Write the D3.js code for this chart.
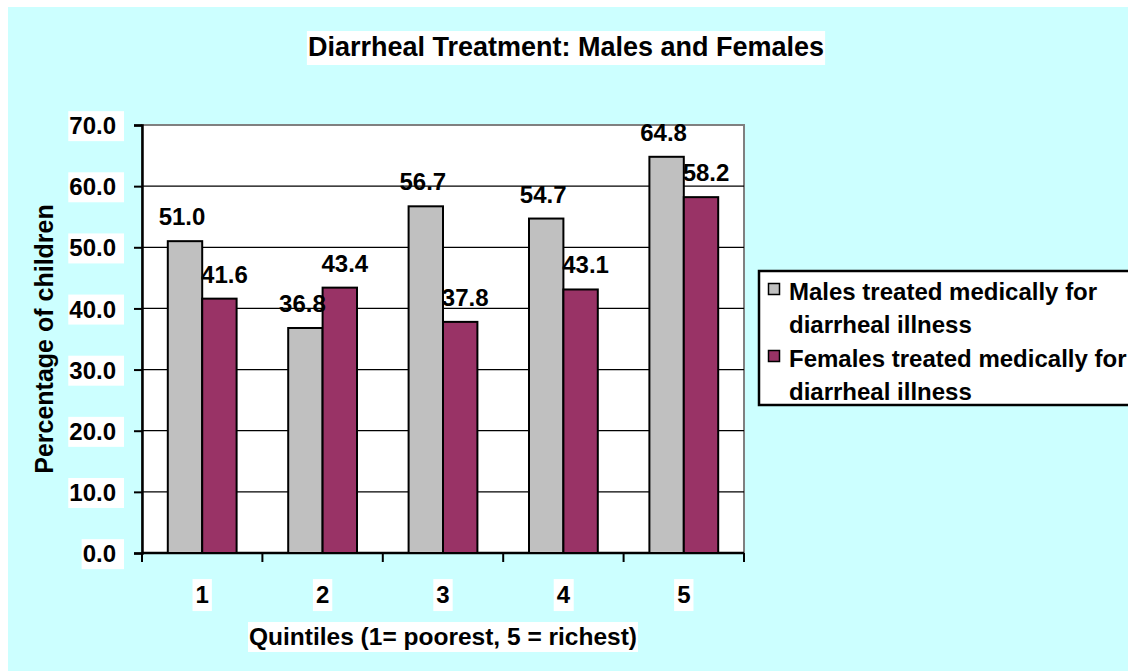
<!DOCTYPE html>
<meta charset="utf-8">
<style>
body { margin: 0; background: #ffffff; }
text { font-family: "Liberation Sans", Arial, sans-serif; font-weight: bold; fill: #000; }
</style>
<body>
<script src="https://cdn.jsdelivr.net/npm/d3@7"></script>
<script>
// data
var quintiles = ["1", "2", "3", "4", "5"];
var seriesNames = ["Males treated medically for diarrheal illness", "Females treated medically for diarrheal illness"];
var legendLines = [["Males treated medically for", "diarrheal illness"], ["Females treated medically for", "diarrheal illness"]];
var males = [51.0, 36.8, 56.7, 54.7, 64.8];
var females = [41.6, 43.4, 37.8, 43.1, 58.2];
var yTicks = [0, 10, 20, 30, 40, 50, 60, 70];
var colors = ["#C0C0C0", "#993366"];

var width = 1128, height = 671;
var plot = {left: 142, right: 744, top: 125, bottom: 553};

var svg = d3.select("body").append("svg")
  .attr("width", width)
  .attr("height", height);

// background
svg.append("rect").attr("x", 8).attr("y", 7)
  .attr("width", width - 8).attr("height", height - 7)
  .attr("fill", "#CCFFFF");

svg.append("rect")
  .attr("x", plot.left).attr("y", plot.top)
  .attr("width", plot.right - plot.left).attr("height", plot.bottom - plot.top)
  .attr("fill", "#ffffff").attr("stroke", "#808080").attr("stroke-width", 2);

// scales
var x0 = d3.scaleBand().domain(quintiles).range([plot.left, plot.right]).padding(0);
var x1 = d3.scaleBand().domain([0, 1]).range([0, x0.bandwidth()]).paddingInner(0).paddingOuter(0.75);
var y = d3.scaleLinear().domain([0, 70]).range([plot.bottom, plot.top]);

// white box behind a text node
function boxIt(sel, pl, pr, pt, pb) {
  sel.each(function() {
    var b = this.getBBox();
    d3.select(this.parentNode).insert("rect", function() { return this; }.bind(this))
      .attr("x", b.x - pl).attr("y", b.y - pt)
      .attr("width", b.width + pl + pr).attr("height", b.height + pt + pb)
      .attr("fill", "#ffffff");
  });
}

// gridlines
svg.append("g").selectAll("line")
  .data(yTicks.filter(function(d) { return d > 0 && d < 70; }))
  .join("line")
  .attr("x1", plot.left).attr("x2", plot.right)
  .attr("y1", function(d) { return y(d); }).attr("y2", function(d) { return y(d); })
  .attr("stroke", "#000").attr("stroke-width", 1.2);

// y axis
var yAxis = svg.append("g")
  .attr("transform", "translate(" + plot.left + ",0)")
  .call(d3.axisLeft(y).tickValues(yTicks).tickFormat(d3.format(".1f")).tickSize(8).tickPadding(18));
yAxis.select(".domain").attr("stroke", "#000").attr("stroke-width", 2.5);
yAxis.selectAll(".tick line").attr("stroke", "#000").attr("stroke-width", 2);
yAxis.selectAll(".tick text")
  .attr("font-size", 24).attr("font-family", "Liberation Sans, Arial, sans-serif")
  .attr("font-weight", "bold").attr("fill", "#000").attr("dy", "0.36em");
boxIt(yAxis.selectAll(".tick text"), 1, 8, 1, 2);

// x axis
var xAxis = svg.append("g")
  .attr("transform", "translate(0," + plot.bottom + ")")
  .call(d3.axisBottom(x0).tickSize(0).tickPadding(33));
xAxis.select(".domain").remove();
xAxis.append("line").attr("x1", plot.left).attr("x2", plot.right)
  .attr("stroke", "#000").attr("stroke-width", 2.5);
xAxis.selectAll(".boundary")
  .data(quintiles.concat(["end"]))
  .join("line")
  .attr("x1", function(d, i) { return i < quintiles.length ? x0(d) : plot.right; })
  .attr("x2", function(d, i) { return i < quintiles.length ? x0(d) : plot.right; })
  .attr("y1", 0).attr("y2", 9)
  .attr("stroke", "#000").attr("stroke-width", 2);
xAxis.selectAll(".tick text")
  .attr("font-size", 24).attr("font-family", "Liberation Sans, Arial, sans-serif")
  .attr("font-weight", "bold").attr("fill", "#000").attr("dy", "0.71em");
boxIt(xAxis.selectAll(".tick text"), 3, 3, 2, 3);

// bars
var groups = svg.append("g").selectAll("g")
  .data(quintiles)
  .join("g")
  .attr("transform", function(d) { return "translate(" + x0(d) + ",0)"; });

groups.selectAll("rect")
  .data(function(d, i) { return [males[i], females[i]]; })
  .join("rect")
  .attr("x", function(d, j) { return x1(j); })
  .attr("y", function(d) { return y(d); })
  .attr("width", x1.bandwidth())
  .attr("height", function(d) { return y(0) - y(d); })
  .attr("fill", function(d, j) { return colors[j]; })
  .attr("stroke", "#000").attr("stroke-width", 2);

groups.selectAll("text")
  .data(function(d, i) { return [males[i], females[i]]; })
  .join("text")
  .attr("x", function(d, j) { return x1(j) + x1.bandwidth() / 2 + (j === 0 ? -3 : 5); })
  .attr("y", function(d) { return y(d) - 16; })
  .attr("text-anchor", "middle")
  .attr("font-size", 24)
  .text(function(d) { return d3.format(".1f")(d); });

// title
var title = svg.append("text")
  .attr("x", 566).attr("y", 56)
  .attr("text-anchor", "middle")
  .attr("font-size", 27)
  .text("Diarrheal Treatment: Males and Females");
boxIt(title, 1, 1, 1, 3);

// axis titles
var xTitle = svg.append("text")
  .attr("x", (plot.left + plot.right) / 2).attr("y", 645)
  .attr("text-anchor", "middle")
  .attr("font-size", 24.5)
  .text("Quintiles (1= poorest, 5 = richest)");
boxIt(xTitle, 1, 1, 1, 2);

var yTitle = svg.append("text")
  .attr("transform", "translate(53," + ((plot.top + plot.bottom) / 2) + ") rotate(-90)")
  .attr("text-anchor", "middle")
  .attr("font-size", 25)
  .text("Percentage of children");
boxIt(yTitle, 2, 2, 2, 2);

// legend
var legend = svg.append("g").attr("transform", "translate(759,271)");
legend.append("rect")
  .attr("x", 0).attr("y", 0).attr("width", 380).attr("height", 134)
  .attr("fill", "#ffffff").attr("stroke", "#000").attr("stroke-width", 2.5);

var items = legend.selectAll(".item")
  .data(seriesNames)
  .join("g")
  .attr("class", "item")
  .attr("transform", function(d, i) { return "translate(0," + (i * 67) + ")"; });

items.append("rect")
  .attr("x", 9.5).attr("y", 12.5).attr("width", 11).attr("height", 11)
  .attr("fill", function(d, i) { return colors[i]; })
  .attr("stroke", "#000").attr("stroke-width", 1.5);

items.append("text")
  .attr("x", 30).attr("y", 28.5)
  .attr("font-size", 24)
  .selectAll("tspan")
  .data(function(d, i) { return legendLines[i]; })
  .join("tspan")
  .attr("x", 30)
  .attr("dy", function(d, k) { return k === 0 ? 0 : 33.5; })
  .text(function(d) { return d; });
</script>
</body>
